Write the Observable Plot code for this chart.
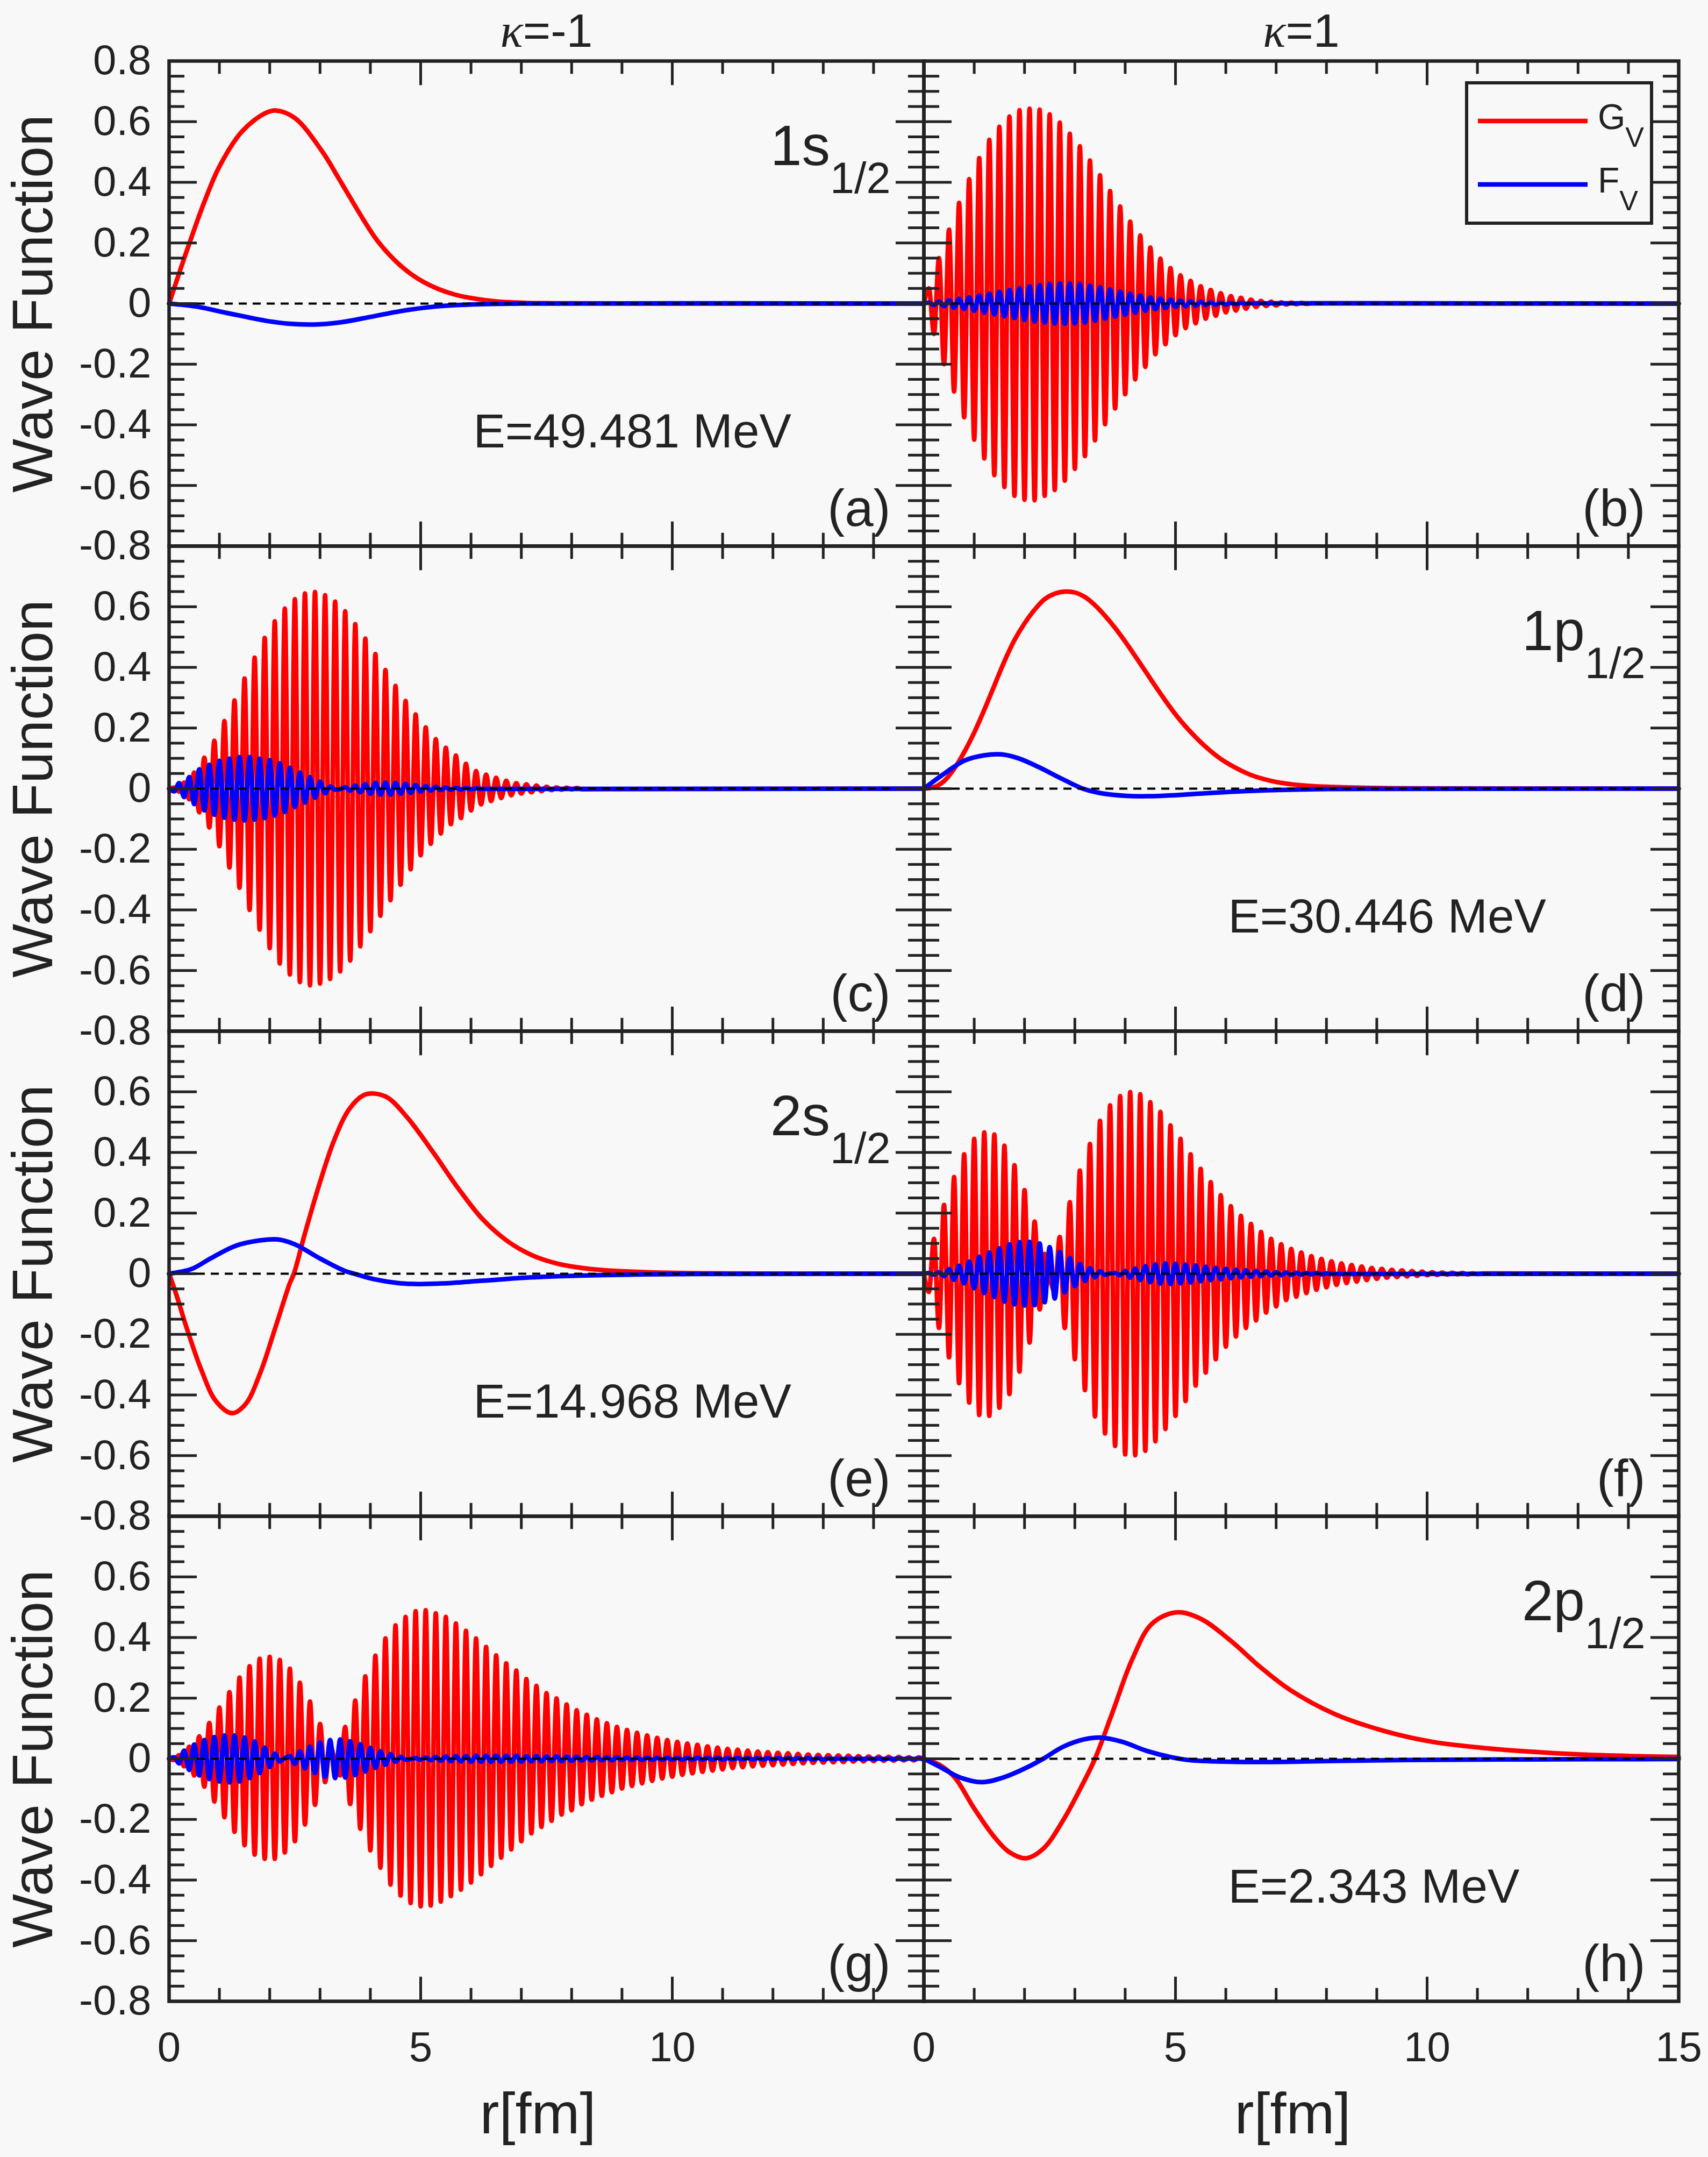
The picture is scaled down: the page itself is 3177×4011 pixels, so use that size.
<!DOCTYPE html>
<html><head><meta charset="utf-8">
<script src="https://cdn.jsdelivr.net/npm/d3@7"></script>
<script src="https://cdn.jsdelivr.net/npm/@observablehq/plot@0.6"></script>
<style>html,body{margin:0;padding:0;background:#f8f8f8;}#chart{width:3177px;height:4011px;}</style>
</head><body><div id="chart"></div>
<script>
// ---------- categories / labels ----------
const columns = ["κ=-1", "κ=1"];
const rows = ["r1", "r2", "r3", "r4"];
const panelGrid = {a:[0,0], b:[1,0], c:[0,1], d:[1,1], e:[0,2], f:[1,2], g:[0,3], h:[1,3]};
const panelTags = {a:"(a)", b:"(b)", c:"(c)", d:"(d)", e:"(e)", f:"(f)", g:"(g)", h:"(h)"};
const stateLabels = [["a","1s_1/2"], ["d","1p_1/2"], ["e","2s_1/2"], ["h","2p_1/2"]];
const energyLabels = [["a","E=49.481 MeV"], ["d","E=30.446 MeV"], ["e","E=14.968 MeV"], ["h","E=2.343 MeV"]];
const legendLabels = [["G","V"], ["F","V"]];
const xDomain = [0, 15];
const yDomain = [-0.8, 0.8];
const xMajorTicks = [5, 10];
const xMinorTicks = [1,2,3,4,6,7,8,9,11,12,13,14];
const yMajorTicks = [-0.6,-0.4,-0.2,0,0.2,0.4,0.6];
const yMinorTicks = [-0.75,-0.7,-0.65,-0.55,-0.5,-0.45,-0.35,-0.3,-0.25,-0.15,-0.1,-0.05,0.05,0.1,0.15,0.25,0.3,0.35,0.45,0.5,0.55,0.65,0.7,0.75];
const yTickLabelsTop = [-0.8,-0.6,-0.4,-0.2,0,0.2,0.4,0.6,0.8];
const yTickLabels = [-0.8,-0.6,-0.4,-0.2,0,0.2,0.4,0.6];
const xTickLabelsLeft = [0,5,10];
const xTickLabelsRight = [0,5,10,15];

// ---------- smooth curves [r, value] ----------
const aG = [[0,0],[0.2,0.1],[0.4,0.197],[0.7,0.335],[1.0,0.452],[1.45,0.568],[1.9,0.627],[2.12,0.637],[2.5,0.612],[3.03,0.505],[3.4,0.405],[3.85,0.28],[4.15,0.205],[4.6,0.125],[5.05,0.072],[5.65,0.031],[6.4,0.009],[7.15,0.002],[8,0.001],[10,0],[15,0]];
const aF = [[0,0],[0.55,-0.01],[1.15,-0.031],[1.9,-0.056],[2.35,-0.066],[2.88,-0.069],[3.4,-0.062],[4.0,-0.044],[4.6,-0.025],[5.28,-0.01],[6.0,-0.003],[7.0,0],[15,0]];
const dG = [[0,0],[0.2,0.005],[0.4,0.025],[0.6,0.065],[0.8,0.12],[1.0,0.185],[1.2,0.26],[1.4,0.34],[1.6,0.42],[1.8,0.49],[2.0,0.545],[2.2,0.59],[2.4,0.625],[2.6,0.643],[2.8,0.65],[3.0,0.647],[3.2,0.632],[3.4,0.605],[3.6,0.57],[3.8,0.53],[4.0,0.485],[4.2,0.437],[4.4,0.388],[4.6,0.338],[4.8,0.29],[5.0,0.245],[5.2,0.205],[5.4,0.17],[5.6,0.138],[5.8,0.11],[6.0,0.087],[6.5,0.045],[7.0,0.022],[7.5,0.011],[8.0,0.006],[9,0.002],[10,0.001],[15,0]];
const dF = [[0,0],[0.41,0.05],[0.8,0.092],[1.2,0.11],[1.54,0.113],[1.88,0.1],[2.27,0.072],[2.76,0.031],[3.16,0],[3.55,-0.016],[4.04,-0.024],[4.43,-0.025],[4.92,-0.022],[5.7,-0.014],[6.7,-0.006],[7.7,-0.002],[9,-0.001],[15,0]];
const eG = [[0,0],[0.15,-0.072],[0.34,-0.174],[0.64,-0.317],[0.93,-0.42],[1.25,-0.46],[1.52,-0.43],[1.81,-0.328],[2.1,-0.184],[2.4,-0.031],[2.48,0],[2.7,0.133],[2.99,0.297],[3.28,0.44],[3.58,0.543],[3.87,0.589],[4.09,0.594],[4.36,0.579],[4.75,0.512],[5.25,0.40],[5.74,0.283],[6.23,0.18],[6.72,0.108],[7.2,0.062],[7.7,0.034],[8.2,0.019],[8.68,0.011],[9.66,0.004],[11,0.001],[15,0]];
const eF = [[0,0],[0.44,0.015],[0.83,0.051],[1.32,0.092],[1.81,0.11],[2.16,0.113],[2.5,0.097],[2.99,0.051],[3.48,0.01],[3.68,0],[4.07,-0.018],[4.56,-0.031],[4.95,-0.034],[5.44,-0.032],[6.23,-0.023],[7.2,-0.012],[8.19,-0.006],[9.17,-0.003],[10.5,-0.001],[15,0]];
const hG = [[0,0],[0.31,-0.02],[0.61,-0.061],[1.0,-0.164],[1.39,-0.256],[1.69,-0.307],[2.03,-0.328],[2.37,-0.297],[2.76,-0.205],[3.16,-0.082],[3.4,0],[3.75,0.154],[4.14,0.328],[4.53,0.445],[5.02,0.483],[5.51,0.461],[6.1,0.389],[6.69,0.302],[7.27,0.228],[8.16,0.148],[9.14,0.092],[10.1,0.056],[11.1,0.036],[12.1,0.023],[13.06,0.014],[14.04,0.009],[15,0.006]];
const hF = [[0,0],[0.31,-0.026],[0.71,-0.061],[1.15,-0.077],[1.59,-0.061],[2.08,-0.026],[2.37,0],[2.76,0.039],[3.16,0.063],[3.5,0.07],[3.94,0.056],[4.43,0.026],[4.92,0.005],[5.31,-0.005],[6.2,-0.01],[7.16,-0.01],[8.16,-0.007],[9.6,-0.004],[12,-0.002],[15,-0.001]];

// ---------- oscillating curves: signed extrema read at r = k*oscStep ----------
const oscStep = 0.1;
const bG = [0,0.05,-0.10,0.15,-0.20,0.244,-0.29,0.332,-0.375,0.41,
-0.449,0.48,-0.511,0.54,-0.566,0.583,-0.605,0.617,-0.634,0.638,
-0.647,0.643,-0.649,0.64,-0.634,0.624,-0.615,0.597,-0.584,0.56,
-0.545,0.519,-0.503,0.472,-0.451,0.423,-0.398,0.371,-0.346,0.32,
-0.299,0.27,-0.25,0.225,-0.209,0.185,-0.167,0.148,-0.134,0.117,
-0.104,0.093,-0.081,0.075,-0.065,0.057,-0.05,0.045,-0.04,0.034,
-0.029,0.025,-0.023,0.019,-0.017,0.013,-0.011,0.009,-0.008,0.006,
-0.006,0.004,-0.003,0.003,-0.002,0.002,-0.001,0.001];
const bF = [0,0.003,-0.005,0.007,-0.009,0.011,-0.014,0.016,-0.018,0.021,
-0.024,0.027,-0.030,0.033,-0.036,0.039,-0.042,0.045,-0.048,0.051,
-0.054,0.057,-0.059,0.061,-0.063,0.065,-0.066,0.067,-0.067,0.067,
-0.066,0.065,-0.063,0.060,-0.057,0.054,-0.050,0.047,-0.043,0.040,
-0.037,0.033,-0.030,0.027,-0.024,0.021,-0.019,0.017,-0.015,0.013,
-0.011,0.010,-0.009,0.008,-0.007,0.006,-0.005,0.004,-0.004,0.003,
-0.003,0.002,-0.002,0.002,-0.001,0.001];
const cG = [0,0.003,-0.01,0.02,-0.035,0.053,-0.078,0.102,-0.128,0.158,
-0.19,0.223,-0.26,0.291,-0.327,0.363,-0.40,0.432,-0.465,0.497,
-0.526,0.552,-0.577,0.594,-0.613,0.625,-0.638,0.644,-0.649,0.649,
-0.643,0.638,-0.628,0.617,-0.603,0.585,-0.567,0.543,-0.52,0.495,
-0.47,0.444,-0.419,0.391,-0.368,0.339,-0.317,0.289,-0.266,0.245,
-0.22,0.202,-0.182,0.163,-0.148,0.135,-0.117,0.109,-0.097,0.082,
-0.072,0.058,-0.052,0.046,-0.041,0.036,-0.031,0.026,-0.022,0.018,
-0.016,0.014,-0.012,0.010,-0.008,0.006,-0.005,0.004,-0.0035,0.003,
-0.0025,0.002,-0.002];
const cF = [0,-0.009,0.018,-0.028,0.038,-0.051,0.064,-0.072,0.079,-0.086,
0.092,-0.096,0.099,-0.102,0.104,-0.105,0.104,-0.102,0.099,-0.097,
0.094,-0.089,0.084,-0.077,0.069,-0.061,0.053,-0.046,0.038,-0.030,
0.023,-0.015,0.007,-0.003,-0.002,0.005,-0.007,0.010,-0.012,0.015,
-0.017,0.019,-0.020,0.020,-0.020,0.019,-0.017,0.016,-0.014,0.012,
-0.010,0.009,-0.007,0.006,-0.005,0.004,-0.004,0.003,-0.003,0.002,
-0.002,0.001,-0.001];
const fG = [0,-0.06,0.115,-0.179,0.227,-0.276,0.319,-0.361,0.394,-0.425,
0.445,-0.466,0.466,-0.469,0.459,-0.442,0.422,-0.397,0.358,-0.323,
0.276,-0.227,0.172,-0.118,0.065,-0.012,-0.06,0.121,-0.179,0.236,
-0.282,0.34,-0.384,0.428,-0.471,0.504,-0.527,0.555,-0.568,0.586,
-0.596,0.599,-0.599,0.592,-0.584,0.566,-0.553,0.534,-0.512,0.489,
-0.469,0.445,-0.42,0.394,-0.369,0.346,-0.326,0.302,-0.282,0.259,
-0.241,0.223,-0.207,0.191,-0.179,0.164,-0.154,0.138,-0.128,0.115,
-0.108,0.097,-0.087,0.082,-0.076,0.070,-0.064,0.058,-0.053,0.049,
-0.045,0.041,-0.037,0.034,-0.031,0.029,-0.026,0.024,-0.021,0.019,
-0.017,0.016,-0.013,0.013,-0.011,0.011,-0.009,0.009,-0.007,0.007,
-0.005,0.005,-0.004,0.004,-0.003,0.003,-0.002,0.002,-0.002,0.001,
-0.001,0.001];
const fF = [0,0.002,-0.003,0.005,-0.008,0.015,-0.02,0.026,-0.032,0.04,
-0.048,0.056,-0.064,0.07,-0.077,0.084,-0.092,0.097,-0.101,0.104,
-0.105,0.105,-0.104,0.100,-0.094,0.088,-0.082,0.072,-0.062,0.052,
-0.042,0.033,-0.024,0.018,-0.012,0.008,-0.004,0.001,0.002,-0.005,
0.009,-0.013,0.017,-0.021,0.025,-0.028,0.031,-0.033,0.034,-0.034,
0.033,-0.032,0.030,-0.029,0.027,-0.025,0.023,-0.021,0.019,-0.018,
0.016,-0.015,0.013,-0.012,0.011,-0.010,0.009,-0.008,0.007,-0.006,
0.005,-0.005,0.004,-0.004,0.003,-0.003,0.002,-0.002,0.002,-0.002,
0.001,-0.001];
const gG = [0,-0.004,0.012,-0.025,0.04,-0.055,0.074,-0.092,0.118,-0.141,
0.169,-0.193,0.22,-0.241,0.268,-0.285,0.305,-0.316,0.33,-0.33,
0.336,-0.33,0.326,-0.309,0.297,-0.272,0.251,-0.217,0.189,-0.152,
0.115,-0.077,0.045,-0.01,-0.055,0.105,-0.149,0.192,-0.231,0.272,
-0.302,0.34,-0.359,0.397,-0.415,0.44,-0.451,0.468,-0.476,0.487,
-0.487,0.49,-0.484,0.48,-0.471,0.468,-0.453,0.446,-0.432,0.422,
-0.408,0.397,-0.381,0.369,-0.353,0.341,-0.326,0.315,-0.299,0.291,
-0.272,0.263,-0.246,0.241,-0.225,0.217,-0.205,0.199,-0.184,0.179,
-0.17,0.16,-0.15,0.145,-0.135,0.13,-0.122,0.117,-0.11,0.105,
-0.098,0.095,-0.09,0.086,-0.081,0.077,-0.073,0.069,-0.065,0.062,
-0.059,0.056,-0.053,0.05,-0.048,0.046,-0.043,0.041,-0.039,0.037,
-0.035,0.033,-0.031,0.03,-0.028,0.027,-0.025,0.024,-0.023,0.022,
-0.021,0.02,-0.019,0.018,-0.017,0.016,-0.015,0.014,-0.0135,0.013,
-0.0125,0.012,-0.0115,0.011,-0.0105,0.01,-0.0095,0.009,-0.0085,0.008,
-0.0075,0.007,-0.0065,0.006,-0.006,0.006,-0.0055,0.005,-0.005,0.005,
-0.0045];
const gF = [0,0.005,-0.015,0.027,-0.037,0.047,-0.055,0.062,-0.067,0.072,
-0.075,0.077,-0.078,0.077,-0.075,0.07,-0.064,0.057,-0.047,0.037,
-0.027,0.017,-0.009,0.002,0.009,-0.017,0.025,-0.032,0.04,-0.047,
0.054,-0.06,0.062,-0.064,0.064,-0.062,0.058,-0.054,0.048,-0.042,
0.036,-0.030,0.025,-0.020,0.015,-0.010,0.006,-0.003,-0.001,0.002,
-0.003,0.004,-0.005,0.006,-0.007,0.008,-0.008,0.009,-0.009,0.009,
-0.010,0.010,-0.010,0.010,-0.010,0.010,-0.010,0.010,-0.010,0.010,
-0.010,0.009,-0.009,0.009,-0.009,0.008,-0.008,0.008,-0.008,0.007,
-0.007,0.007,-0.006,0.006,-0.006,0.006,-0.005,0.005,-0.005,0.005,
-0.004,0.004,-0.004,0.004,-0.004,0.004,-0.004,0.003,-0.003,0.003,
-0.003,0.003,-0.003,0.003,-0.003,0.003,-0.003,0.003,-0.003,0.003,
-0.003,0.002,-0.002,0.002,-0.002,0.002,-0.002,0.002,-0.002,0.002,
-0.002,0.002,-0.002,0.002,-0.002,0.002,-0.002,0.002,-0.002,0.002,
-0.002,0.001,-0.001,0.001,-0.001,0.001,-0.001,0.001,-0.001,0.001,
-0.001,0.001,-0.001,0.001,-0.001,0.001,-0.001,0.001,-0.001,0.001,
-0.001];

// ---------- layout & style ----------
const W = 3177, H = 4011;
const mL = 314, mR = 55, mT = 111, mB = 289;
const facetW = (W - mL - mR) / 2;
const facetH = (H - mT - mB) / 4;
const BG = "#f8f8f8", INK = "#222222", RED = "#ff0000", BLUE = "#0000ff";
const LW = 8.5;
const FONT = "'Liberation Sans', Arial, Helvetica, sans-serif";

// ---------- build tables ----------
const at = p => ({fx: columns[panelGrid[p][0]], fy: rows[panelGrid[p][1]]});
const smooth = (p, s, pts) => pts.map(([x, y]) => ({...at(p), key: p + s, x, y}));
const osc = (p, s, ext) => {
  const r = ext.map((y, k) => ({...at(p), key: p + s, x: +(k * oscStep).toFixed(3), y}));
  if (r[r.length - 1].x < xDomain[1]) r.push({...at(p), key: p + s, x: xDomain[1], y: 0});
  return r;
};
const smoothG = [...smooth("a","G",aG), ...smooth("d","G",dG), ...smooth("e","G",eG), ...smooth("h","G",hG)];
const smoothF = [...smooth("a","F",aF), ...smooth("d","F",dF), ...smooth("e","F",eF), ...smooth("h","F",hF)];
const oscGdata = [...osc("b","G",bG), ...osc("c","G",cG), ...osc("f","G",fG), ...osc("g","G",gG)];
const oscFdata = [...osc("b","F",bF), ...osc("c","F",cF), ...osc("f","F",fF), ...osc("g","F",gF)];

const fmt = v => v === 0 ? "0" : v.toFixed(1);
const yLabelData = rows.flatMap((r, i) => (i === 0 ? yTickLabelsTop : yTickLabels).map(v => ({fx: columns[0], fy: r, v})));
const xLabelData = [...xTickLabelsLeft.map(v => ({fx: columns[0], fy: rows[3], v})), ...xTickLabelsRight.map(v => ({fx: columns[1], fy: rows[3], v}))];
const tagData = Object.keys(panelGrid).map(p => ({...at(p), t: panelTags[p]}));
const stateData = stateLabels.map(([p, t]) => ({...at(p), t}));
const energyData = energyLabels.map(([p, t]) => ({...at(p), t}));
const yTitleData = rows.map(r => ({fx: columns[0], fy: r, t: "Wave Function"}));
const xTitleData = columns.map(c => ({fx: c, fy: rows[3], t: "r[fm]"}));
const colTitleData = columns.map(c => ({fx: c, fy: rows[0], t: c}));

const tick = {stroke: INK, strokeWidth: 5};
const chart = Plot.plot({
  width: W, height: H,
  marginLeft: mL, marginRight: mR, marginTop: mT, marginBottom: mB,
  style: {background: BG, fontFamily: FONT, color: "#000", overflow: "visible"},
  x: {domain: xDomain, axis: null},
  y: {domain: yDomain, axis: null},
  fx: {domain: columns, padding: 0, axis: null},
  fy: {domain: rows, padding: 0, axis: null},
  marks: [
    Plot.line(smoothG, {x: "x", y: "y", fx: "fx", fy: "fy", z: "key", stroke: RED, strokeWidth: LW, curve: "catmull-rom"}),
    Plot.line(oscGdata, {x: "x", y: "y", fx: "fx", fy: "fy", z: "key", stroke: RED, strokeWidth: LW, curve: "monotone-x"}),
    Plot.line(smoothF, {x: "x", y: "y", fx: "fx", fy: "fy", z: "key", stroke: BLUE, strokeWidth: LW, curve: "catmull-rom"}),
    Plot.line(oscFdata, {x: "x", y: "y", fx: "fx", fy: "fy", z: "key", stroke: BLUE, strokeWidth: LW, curve: "monotone-x"}),
    Plot.ruleY([0], {stroke: "#000", strokeWidth: 4, strokeDasharray: "15,11"}),
    Plot.ruleX(xMinorTicks, {insetTop: facetH - 25, ...tick}),
    Plot.ruleX(xMinorTicks, {insetBottom: facetH - 25, ...tick}),
    Plot.ruleX(xMajorTicks, {insetTop: facetH - 46, ...tick}),
    Plot.ruleX(xMajorTicks, {insetBottom: facetH - 46, ...tick}),
    Plot.ruleY(yMinorTicks, {insetRight: facetW - 29, ...tick}),
    Plot.ruleY(yMinorTicks, {insetLeft: facetW - 29, ...tick}),
    Plot.ruleY(yMajorTicks, {insetRight: facetW - 52, ...tick}),
    Plot.ruleY(yMajorTicks, {insetLeft: facetW - 52, ...tick}),
    Plot.frame({stroke: INK, strokeWidth: 6.5}),
    Plot.text(yLabelData, {fx: "fx", fy: "fy", y: "v", text: d => fmt(d.v), frameAnchor: "left", textAnchor: "end", lineAnchor: "middle", dx: -33, fontSize: 78, fill: INK}),
    Plot.text(xLabelData, {fx: "fx", fy: "fy", x: "v", text: d => String(d.v), frameAnchor: "bottom", lineAnchor: "bottom", dy: 111, fontSize: 78, fill: INK}),
    Plot.text(yTitleData, {fx: "fx", fy: "fy", text: "t", frameAnchor: "left", rotate: -90, dx: -251, textAnchor: "middle", lineAnchor: "middle", fontSize: 106, fill: INK}),
    Plot.text(xTitleData, {fx: "fx", fy: "fy", text: "t", frameAnchor: "bottom", lineAnchor: "bottom", dy: 245, dx: -16, fontSize: 108, fill: INK}),
    Plot.text(colTitleData, {fx: "fx", fy: "fy", text: "t", frameAnchor: "top", lineAnchor: "bottom", dy: -27, fontSize: 88, fill: INK}),
    Plot.text(tagData, {fx: "fx", fy: "fy", text: "t", frameAnchor: "bottom-right", textAnchor: "end", lineAnchor: "bottom", dx: -62, dy: -38, fontSize: 96, fill: INK}),
    Plot.text(stateData, {fx: "fx", fy: "fy", text: "t", frameAnchor: "top-right", textAnchor: "end", lineAnchor: "bottom", dx: -62, dy: 193, fontSize: 105, fill: INK}),
    Plot.text(energyData, {fx: "fx", fy: "fy", text: "t", frameAnchor: "top-left", textAnchor: "start", lineAnchor: "bottom", dx: 566, dy: 718, fontSize: 89, fill: INK})
  ]
});

// subscripts and italic kappa as real text
d3.select(chart).selectAll("text").each(function() {
  const t = this.textContent;
  const el = d3.select(this);
  if (t.includes("_")) {
    const [main, sub] = t.split("_");
    el.text(main);
    el.append("tspan").attr("font-size", 81).attr("dy", 52).text(sub);
  } else if (t.startsWith("κ")) {
    el.text("");
    el.append("tspan").attr("font-family", "'Liberation Serif', 'DejaVu Serif', serif").attr("font-style", "italic").text("κ");
    el.append("tspan").text(t.slice(1));
  }
});

// legend (inside panel b, top-right)
const boxRight = W - mR - 50, boxTop = mT + 43, boxW = 344, boxH = 261;
const lg = d3.select(chart).append("g").attr("font-family", FONT).attr("text-anchor", "start");
lg.append("rect").attr("x", boxRight - boxW).attr("y", boxTop).attr("width", boxW).attr("height", boxH)
  .attr("fill", BG).attr("stroke", INK).attr("stroke-width", 6);
[RED, BLUE].forEach((c, i) => {
  const yy = boxTop + 71 + i * 118;
  lg.append("line").attr("x1", boxRight - boxW + 21).attr("x2", boxRight - boxW + 225)
    .attr("y1", yy).attr("y2", yy).attr("stroke", c).attr("stroke-width", LW);
  const tx = lg.append("text").attr("x", boxRight - boxW + 244).attr("y", yy + 15)
    .attr("font-size", 66).attr("fill", INK).attr("text-anchor", "start").text(legendLabels[i][0]);
  tx.append("tspan").attr("font-size", 52).attr("dy", 33).text(legendLabels[i][1]);
});

document.getElementById("chart").appendChild(chart);
</script></body></html>
